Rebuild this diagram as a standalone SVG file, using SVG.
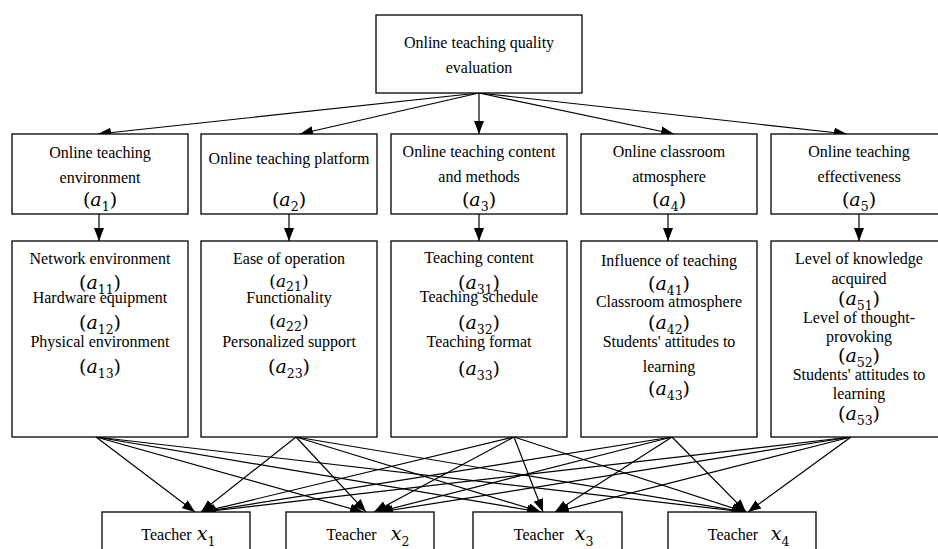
<svg xmlns="http://www.w3.org/2000/svg" width="938" height="549" viewBox="0 0 938 549">
<style>
.box{fill:#fff;stroke:#000;stroke-width:1.3}
.t{font-family:'Liberation Serif',serif;font-size:16px;fill:#000;text-anchor:middle}
.m{font-family:'DejaVu Serif',serif;font-size:19px;fill:#000;text-anchor:middle}
.ms{font-family:'DejaVu Serif',serif;font-size:17px;fill:#000;text-anchor:middle}
.i{font-style:italic}
.s{font-size:12.5px;font-style:normal}
.c{fill:none;stroke:#000;stroke-width:1.2}
</style>
<defs>
<marker id="ah" markerUnits="userSpaceOnUse" markerWidth="13" markerHeight="10" refX="13" refY="5" orient="auto">
<path d="M0,0 L13,5 L0,10 z" fill="#000"/>
</marker>
</defs>

<g id="connectors">
<line class="c" x1="479" y1="93" x2="98" y2="134" marker-end="url(#ah)"/>
<line class="c" x1="479" y1="93" x2="300" y2="134" marker-end="url(#ah)"/>
<line class="c" x1="479" y1="93" x2="479" y2="134" marker-end="url(#ah)"/>
<line class="c" x1="479" y1="93" x2="674" y2="134" marker-end="url(#ah)"/>
<line class="c" x1="479" y1="93" x2="847" y2="134" marker-end="url(#ah)"/>

<line class="c" x1="99" y1="214" x2="99" y2="241" marker-end="url(#ah)"/>
<line class="c" x1="289" y1="214" x2="289" y2="241" marker-end="url(#ah)"/>
<line class="c" x1="479" y1="214" x2="479" y2="241" marker-end="url(#ah)"/>
<line class="c" x1="668" y1="214" x2="668" y2="241" marker-end="url(#ah)"/>
<line class="c" x1="859" y1="214" x2="859" y2="241" marker-end="url(#ah)"/>

<line class="c" x1="96" y1="437" x2="195" y2="512" marker-end="url(#ah)"/>
<line class="c" x1="96" y1="437" x2="363" y2="512" marker-end="url(#ah)"/>
<line class="c" x1="96" y1="437" x2="540" y2="512" marker-end="url(#ah)"/>
<line class="c" x1="96" y1="437" x2="745" y2="512" marker-end="url(#ah)"/>

<line class="c" x1="296" y1="437" x2="201" y2="512" marker-end="url(#ah)"/>
<line class="c" x1="296" y1="437" x2="366" y2="512" marker-end="url(#ah)"/>
<line class="c" x1="296" y1="437" x2="541" y2="512" marker-end="url(#ah)"/>
<line class="c" x1="296" y1="437" x2="745" y2="512" marker-end="url(#ah)"/>

<line class="c" x1="514" y1="437" x2="202" y2="512" marker-end="url(#ah)"/>
<line class="c" x1="514" y1="437" x2="374" y2="512" marker-end="url(#ah)"/>
<line class="c" x1="514" y1="437" x2="543" y2="512" marker-end="url(#ah)"/>
<line class="c" x1="514" y1="437" x2="745" y2="512" marker-end="url(#ah)"/>

<line class="c" x1="672" y1="437" x2="202" y2="512" marker-end="url(#ah)"/>
<line class="c" x1="672" y1="437" x2="378" y2="512" marker-end="url(#ah)"/>
<line class="c" x1="672" y1="437" x2="555" y2="512" marker-end="url(#ah)"/>
<line class="c" x1="672" y1="437" x2="746" y2="512" marker-end="url(#ah)"/>

<line class="c" x1="851" y1="437" x2="203" y2="512" marker-end="url(#ah)"/>
<line class="c" x1="851" y1="437" x2="380" y2="512" marker-end="url(#ah)"/>
<line class="c" x1="851" y1="437" x2="556" y2="512" marker-end="url(#ah)"/>
<line class="c" x1="851" y1="437" x2="748" y2="512" marker-end="url(#ah)"/>
</g>

<g id="root">
<rect class="box" x="376" y="15" width="206" height="78"/>
<text class="t" x="479" y="47.5">Online teaching quality</text>
<text class="t" x="479" y="72.5">evaluation</text>
</g>

<g id="a1">
<rect class="box" x="12" y="134" width="176" height="80"/>
<text class="t" x="100" y="157.5">Online teaching</text>
<text class="t" x="100" y="183">environment</text>
<text class="m" x="100" y="206">(<tspan class="i">a</tspan><tspan class="s" dy="5">1</tspan><tspan dy="-5">)</tspan></text>
</g>
<g id="a2">
<rect class="box" x="201" y="134" width="176" height="80"/>
<text class="t" x="289" y="163.5">Online teaching platform</text>
<text class="m" x="289" y="206">(<tspan class="i">a</tspan><tspan class="s" dy="5">2</tspan><tspan dy="-5">)</tspan></text>
</g>
<g id="a3">
<rect class="box" x="391" y="134" width="176" height="80"/>
<text class="t" x="479" y="157">Online teaching content</text>
<text class="t" x="479" y="182">and methods</text>
<text class="m" x="479" y="206">(<tspan class="i">a</tspan><tspan class="s" dy="5">3</tspan><tspan dy="-5">)</tspan></text>
</g>
<g id="a4">
<rect class="box" x="581" y="134" width="176" height="80"/>
<text class="t" x="669" y="157">Online classroom</text>
<text class="t" x="669" y="182">atmosphere</text>
<text class="m" x="669" y="206">(<tspan class="i">a</tspan><tspan class="s" dy="5">4</tspan><tspan dy="-5">)</tspan></text>
</g>
<g id="a5">
<rect class="box" x="771" y="134" width="176" height="80"/>
<text class="t" x="859" y="157">Online teaching</text>
<text class="t" x="859" y="182">effectiveness</text>
<text class="m" x="859" y="206">(<tspan class="i">a</tspan><tspan class="s" dy="5">5</tspan><tspan dy="-5">)</tspan></text>
</g>

<g id="b1">
<rect class="box" x="12" y="241" width="176" height="196"/>
<text class="t" x="100" y="263.5">Network environment</text>
<text class="m" x="100" y="288.5">(<tspan class="i">a</tspan><tspan class="s" dy="5">11</tspan><tspan dy="-5">)</tspan></text>
<text class="t" x="100" y="302.5">Hardware equipment</text>
<text class="m" x="100" y="329">(<tspan class="i">a</tspan><tspan class="s" dy="5">12</tspan><tspan dy="-5">)</tspan></text>
<text class="t" x="100" y="346.5">Physical environment</text>
<text class="m" x="100" y="372.5">(<tspan class="i">a</tspan><tspan class="s" dy="5">13</tspan><tspan dy="-5">)</tspan></text>
</g>
<g id="b2">
<rect class="box" x="201" y="241" width="176" height="196"/>
<text class="t" x="289" y="263.5">Ease of operation</text>
<text class="ms" x="289" y="286.5">(<tspan class="i">a</tspan><tspan class="s" dy="4">21</tspan><tspan dy="-4">)</tspan></text>
<text class="t" x="289" y="302.5">Functionality</text>
<text class="ms" x="289" y="326.5">(<tspan class="i">a</tspan><tspan class="s" dy="4">22</tspan><tspan dy="-4">)</tspan></text>
<text class="t" x="289" y="346.5">Personalized support</text>
<text class="m" x="289" y="373">(<tspan class="i">a</tspan><tspan class="s" dy="5">23</tspan><tspan dy="-5">)</tspan></text>
</g>
<g id="b3">
<rect class="box" x="391" y="241" width="176" height="196"/>
<text class="t" x="479" y="262.5">Teaching content</text>
<text class="m" x="479" y="288.5">(<tspan class="i">a</tspan><tspan class="s" dy="5">31</tspan><tspan dy="-5">)</tspan></text>
<text class="t" x="479" y="301.5">Teaching schedule</text>
<text class="m" x="479" y="328.5">(<tspan class="i">a</tspan><tspan class="s" dy="5">32</tspan><tspan dy="-5">)</tspan></text>
<text class="t" x="479" y="346.5">Teaching format</text>
<text class="m" x="479" y="375">(<tspan class="i">a</tspan><tspan class="s" dy="5">33</tspan><tspan dy="-5">)</tspan></text>
</g>
<g id="b4">
<rect class="box" x="581" y="241" width="176" height="196"/>
<text class="t" x="669" y="265.5">Influence of teaching</text>
<text class="m" x="669" y="290">(<tspan class="i">a</tspan><tspan class="s" dy="5">41</tspan><tspan dy="-5">)</tspan></text>
<text class="t" x="669" y="306.5">Classroom atmosphere</text>
<text class="m" x="669" y="328.5">(<tspan class="i">a</tspan><tspan class="s" dy="5">42</tspan><tspan dy="-5">)</tspan></text>
<text class="t" x="669" y="346.5">Students' attitudes to</text>
<text class="t" x="669" y="372">learning</text>
<text class="m" x="669" y="395">(<tspan class="i">a</tspan><tspan class="s" dy="5">43</tspan><tspan dy="-5">)</tspan></text>
</g>
<g id="b5">
<rect class="box" x="771" y="241" width="176" height="196"/>
<text class="t" x="859" y="263.5">Level of knowledge</text>
<text class="t" x="859" y="283.5">acquired</text>
<text class="m" x="859" y="304.5">(<tspan class="i">a</tspan><tspan class="s" dy="5">51</tspan><tspan dy="-5">)</tspan></text>
<text class="t" x="859" y="322.5">Level of thought-</text>
<text class="t" x="859" y="341.5">provoking</text>
<text class="m" x="859" y="361.5">(<tspan class="i">a</tspan><tspan class="s" dy="5">52</tspan><tspan dy="-5">)</tspan></text>
<text class="t" x="859" y="380">Students' attitudes to</text>
<text class="t" x="859" y="399">learning</text>
<text class="m" x="859" y="420">(<tspan class="i">a</tspan><tspan class="s" dy="5">53</tspan><tspan dy="-5">)</tspan></text>
</g>

<g id="x1">
<rect class="box" x="102" y="512" width="148" height="50"/>
<text class="t" x="166.5" y="540">Teacher</text>
<text class="m" x="206" y="540"><tspan class="i">x</tspan><tspan class="s" dy="6">1</tspan></text>
</g>
<g id="x2">
<rect class="box" x="286" y="512" width="148" height="50"/>
<text class="t" x="351.5" y="540">Teacher</text>
<text class="m" x="400" y="540"><tspan class="i">x</tspan><tspan class="s" dy="6">2</tspan></text>
</g>
<g id="x3">
<rect class="box" x="473" y="512" width="149" height="50"/>
<text class="t" x="539" y="540">Teacher</text>
<text class="m" x="584" y="540"><tspan class="i">x</tspan><tspan class="s" dy="6">3</tspan></text>
</g>
<g id="x4">
<rect class="box" x="668" y="512" width="148" height="50"/>
<text class="t" x="733" y="540">Teacher</text>
<text class="m" x="780" y="540"><tspan class="i">x</tspan><tspan class="s" dy="6">4</tspan></text>
</g>
</svg>
